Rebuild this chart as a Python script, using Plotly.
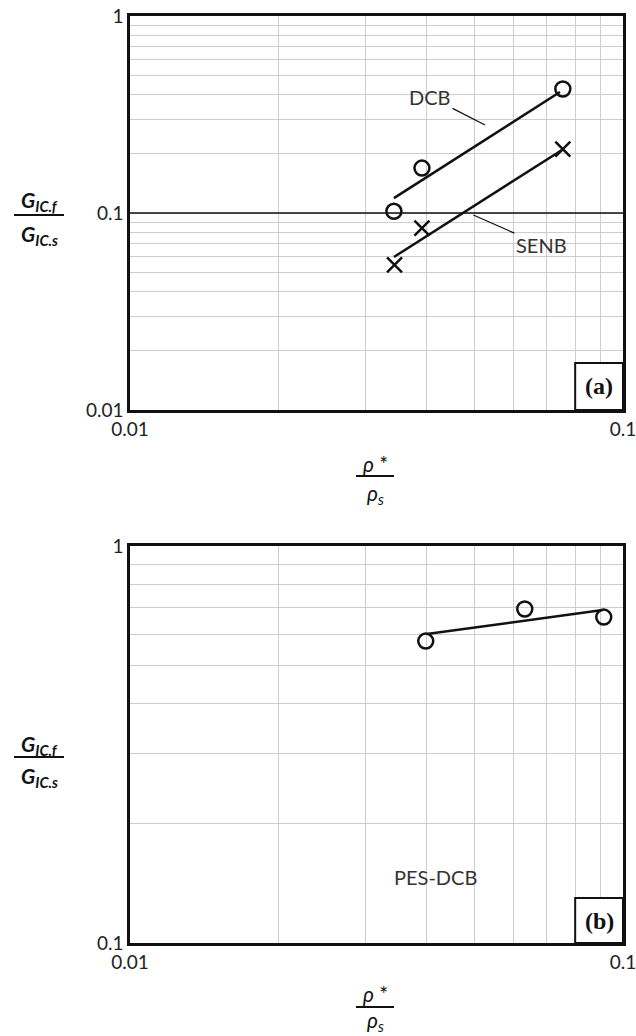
import math
import plotly.graph_objects as go

W, H = 636, 1036

# panel (a): DCB (circles) and SENB (crosses)
dcb_x = [0.0343, 0.0391, 0.0755]
dcb_y = [0.102, 0.169, 0.426]
senb_x = [0.0344, 0.0391, 0.0755]
senb_y = [0.0545, 0.0839, 0.211]
dcb_fit_x = [0.0343, 0.0745]
dcb_fit_y = [0.119, 0.411]
senb_fit_x = [0.0343, 0.0752]
senb_fit_y = [0.0598, 0.209]

# panel (b): PES-DCB
pes_x = [0.0398, 0.0632, 0.0914]
pes_y = [0.576, 0.694, 0.662]
pes_fit_x = [0.0400, 0.0910]
pes_fit_y = [0.600, 0.690]

# grid / tick positions
x_grid = [0.01, 0.02, 0.03, 0.04, 0.05, 0.06, 0.07, 0.08, 0.09, 0.1]
x_text = ["0.01", "", "", "", "", "", "", "", "", "0.1"]
ya_grid = [0.01, 0.02, 0.03, 0.04, 0.05, 0.06, 0.07, 0.08, 0.09,
           0.1, 0.2, 0.3, 0.4, 0.5, 0.6, 0.7, 0.8, 0.9, 1]
ya_text = ["0.01", "", "", "", "", "", "", "", "",
           "0.1", "", "", "", "", "", "", "", "", "1"]
yb_grid = [0.1, 0.2, 0.3, 0.4, 0.5, 0.6, 0.7, 0.8, 0.9, 1]
yb_text = ["0.1", "", "", "", "", "", "", "", "", "1"]

FONT = "Lato"
BLACK = "#111111"


def px(x):
    return x / W


def py(y):
    return 1 - y / H


fig = go.Figure()

line_style = dict(color=BLACK, width=2.5)
circle = dict(symbol="circle-open", size=15, color=BLACK, line=dict(width=2.5, color=BLACK))
cross = dict(symbol="x-thin", size=15, color=BLACK, line=dict(width=2.5, color=BLACK))

fig.add_trace(go.Scatter(x=dcb_fit_x, y=dcb_fit_y, mode="lines", line=line_style, xaxis="x", yaxis="y"))
fig.add_trace(go.Scatter(x=senb_fit_x, y=senb_fit_y, mode="lines", line=line_style, xaxis="x", yaxis="y"))
fig.add_trace(go.Scatter(x=dcb_x, y=dcb_y, mode="markers", marker=circle, xaxis="x", yaxis="y"))
fig.add_trace(go.Scatter(x=senb_x, y=senb_y, mode="markers", marker=cross, xaxis="x", yaxis="y"))

fig.add_trace(go.Scatter(x=pes_fit_x, y=pes_fit_y, mode="lines", line=line_style, xaxis="x2", yaxis="y2"))
fig.add_trace(go.Scatter(x=pes_x, y=pes_y, mode="markers", marker=circle, xaxis="x2", yaxis="y2"))

axis_common = dict(
    type="log", showgrid=True, gridcolor="#cdcdcd", gridwidth=1.2,
    showline=True, mirror=True, linecolor=BLACK, linewidth=2.5,
    ticks="", zeroline=False, automargin=False, ticklabeloverflow="allow",
    tickfont=dict(family=FONT, size=19, color="#222"),
)
xdom = [px(130), px(623)]

fig.update_layout(
    width=W, height=H,
    margin=dict(l=0, r=0, t=0, b=0, autoexpand=False),
    paper_bgcolor="white", plot_bgcolor="white",
    showlegend=False,
    xaxis=dict(axis_common, domain=xdom, range=[-2, -1], tickvals=x_grid, ticktext=x_text, anchor="y"),
    yaxis=dict(axis_common, domain=[py(410), py(16)], range=[-2, 0], tickvals=ya_grid, ticktext=ya_text, anchor="x"),
    xaxis2=dict(axis_common, domain=xdom, range=[-2, -1], tickvals=x_grid, ticktext=x_text, anchor="y2"),
    yaxis2=dict(axis_common, domain=[py(943), py(546)], range=[-1, 0], tickvals=yb_grid, ticktext=yb_text, anchor="x2"),
)

# black 0.1 line in panel (a)
fig.add_shape(type="line", xref="x domain", yref="y", x0=0, x1=1, y0=0.1, y1=0.1,
              line=dict(color=BLACK, width=1.5))

# panel label boxes
for xa, ya, lab, h in [("x", "y", "(a)", 47 / 394), ("x2", "y2", "(b)", 45 / 397)]:
    fig.add_shape(type="rect", xref=f"{xa} domain", yref=f"{ya} domain",
                  x0=0.903, x1=1, y0=0, y1=h,
                  line=dict(color=BLACK, width=2), fillcolor="white")
    fig.add_annotation(xref=f"{xa} domain", yref=f"{ya} domain", x=0.9515, y=h / 2,
                       xanchor="center", yanchor="middle",
                       text=f"<b>{lab}</b>", showarrow=False,
                       font=dict(family="Liberation Serif", size=24, color=BLACK))

# series labels (annotation positions on log axes are given as log10)
lab_font = dict(family=FONT, size=20, color="#333")
fig.add_annotation(xref="x", yref="y", x=math.log10(0.0525), y=math.log10(0.280), ax=-55, ay=-28,
                   text="DCB", showarrow=True, arrowhead=0, arrowwidth=1.2, arrowcolor=BLACK,
                   standoff=0, font=lab_font)
fig.add_annotation(xref="x", yref="y", x=math.log10(0.0497), y=math.log10(0.0977), ax=68, ay=30,
                   text="SENB", showarrow=True, arrowhead=0, arrowwidth=1.2, arrowcolor=BLACK,
                   standoff=0, font=lab_font)
fig.add_annotation(xref="x2 domain", yref="y2 domain", x=0.619, y=0.166, text="PES-DCB",
                   xanchor="center", yanchor="middle", showarrow=False, font=lab_font)

# fraction-style axis titles
frac_font = dict(family=FONT, size=21, color=BLACK)
num_y = "<b><i>G</i></b><sub><b><i>IC.f</i></b></sub>"
den_y = "<b><i>G</i></b><sub><b><i>IC.s</i></b></sub>"
num_x = "<i>ρ</i> *"
den_x = "<i>ρ</i><sub><i>s</i></sub>"


def frac(cx, top, bar, bot, half, num, den):
    fig.add_annotation(xref="paper", yref="paper", x=px(cx), y=py(top), text=num,
                       xanchor="center", yanchor="middle", showarrow=False, font=frac_font)
    fig.add_shape(type="line", xref="paper", yref="paper", x0=px(cx - half), x1=px(cx + half),
                  y0=py(bar), y1=py(bar), line=dict(color=BLACK, width=2))
    fig.add_annotation(xref="paper", yref="paper", x=px(cx), y=py(bot), text=den,
                       xanchor="center", yanchor="middle", showarrow=False, font=frac_font)


frac(39, 201, 215, 235, 25, num_y, den_y)
frac(39, 745, 757, 777, 25, num_y, den_y)
frac(375, 463, 476, 494, 19, num_x, den_x)
frac(375, 993, 1007, 1021, 19, num_x, den_x)

# drop the page margin so the 636x1036 figure fills the window without scrollbars
fig.write_html("out.html", config={"displayModeBar": False},
               post_script="document.body.style.margin='0';document.body.style.overflow='hidden';")
